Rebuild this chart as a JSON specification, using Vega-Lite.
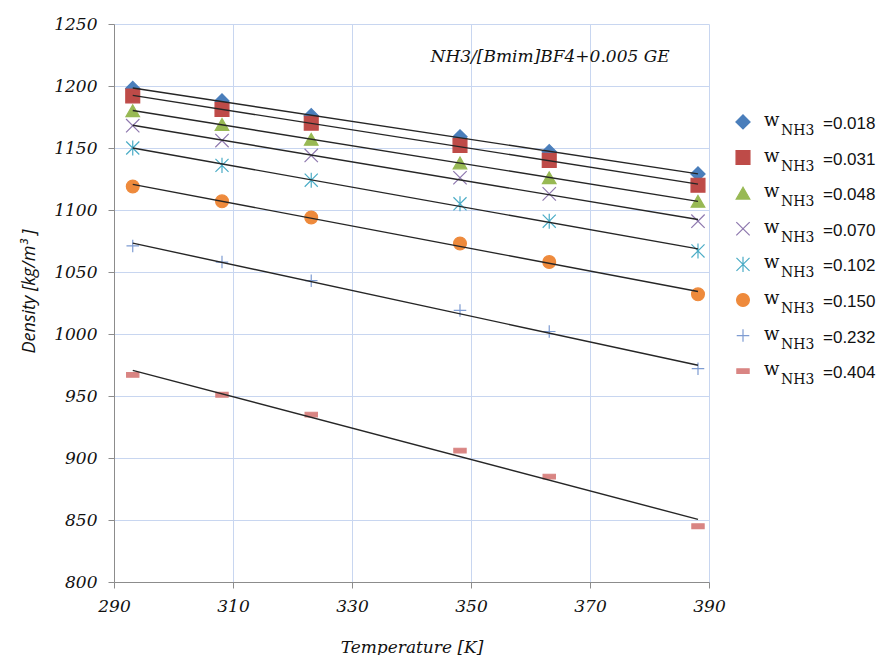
{
  "$schema": "https://vega.github.io/schema/vega-lite/v6.json",
  "background": "white",
  "padding": {"left": 20, "top": 15, "right": 0, "bottom": 0},
  "spacing": 20,
  "bounds": "flush",
  "datasets": {
    "density": [
      {"w": 0.018, "T": 293.15, "rho": 1198}, {"w": 0.018, "T": 308.15, "rho": 1188}, {"w": 0.018, "T": 323.15, "rho": 1176},
      {"w": 0.018, "T": 348.15, "rho": 1159}, {"w": 0.018, "T": 363.15, "rho": 1147}, {"w": 0.018, "T": 388.15, "rho": 1129},
      {"w": 0.031, "T": 293.15, "rho": 1192}, {"w": 0.031, "T": 308.15, "rho": 1181}, {"w": 0.031, "T": 323.15, "rho": 1170},
      {"w": 0.031, "T": 348.15, "rho": 1152}, {"w": 0.031, "T": 363.15, "rho": 1140}, {"w": 0.031, "T": 388.15, "rho": 1120},
      {"w": 0.048, "T": 293.15, "rho": 1180}, {"w": 0.048, "T": 308.15, "rho": 1169}, {"w": 0.048, "T": 323.15, "rho": 1157},
      {"w": 0.048, "T": 348.15, "rho": 1138}, {"w": 0.048, "T": 363.15, "rho": 1126}, {"w": 0.048, "T": 388.15, "rho": 1107},
      {"w": 0.070, "T": 293.15, "rho": 1168}, {"w": 0.070, "T": 308.15, "rho": 1156}, {"w": 0.070, "T": 323.15, "rho": 1144},
      {"w": 0.070, "T": 348.15, "rho": 1126}, {"w": 0.070, "T": 363.15, "rho": 1113}, {"w": 0.070, "T": 388.15, "rho": 1091},
      {"w": 0.102, "T": 293.15, "rho": 1150}, {"w": 0.102, "T": 308.15, "rho": 1136}, {"w": 0.102, "T": 323.15, "rho": 1124},
      {"w": 0.102, "T": 348.15, "rho": 1105}, {"w": 0.102, "T": 363.15, "rho": 1091}, {"w": 0.102, "T": 388.15, "rho": 1067},
      {"w": 0.150, "T": 293.15, "rho": 1119}, {"w": 0.150, "T": 308.15, "rho": 1107}, {"w": 0.150, "T": 323.15, "rho": 1094},
      {"w": 0.150, "T": 348.15, "rho": 1073}, {"w": 0.150, "T": 363.15, "rho": 1058}, {"w": 0.150, "T": 388.15, "rho": 1032},
      {"w": 0.232, "T": 293.15, "rho": 1071}, {"w": 0.232, "T": 308.15, "rho": 1058}, {"w": 0.232, "T": 323.15, "rho": 1043},
      {"w": 0.232, "T": 348.15, "rho": 1019}, {"w": 0.232, "T": 363.15, "rho": 1002}, {"w": 0.232, "T": 388.15, "rho": 972},
      {"w": 0.404, "T": 293.15, "rho": 967}, {"w": 0.404, "T": 308.15, "rho": 951}, {"w": 0.404, "T": 323.15, "rho": 935},
      {"w": 0.404, "T": 348.15, "rho": 906}, {"w": 0.404, "T": 363.15, "rho": 885}, {"w": 0.404, "T": 388.15, "rho": 845}
    ]
  },
  "config": {
    "view": {"stroke": null},
    "axis": {
      "gridColor": "#C8D6F0",
      "gridWidth": 1,
      "domainColor": "#8C8C8C",
      "tickColor": "#8C8C8C",
      "tickSize": 6,
      "labelFlush": false,
      "labelFont": "DejaVu Serif",
      "labelFontStyle": "italic",
      "labelFontSize": 17,
      "labelColor": "#111111",
      "titleColor": "#111111",
      "titleFontWeight": "normal"
    }
  },
  "hconcat": [
    {
      "width": 595,
      "height": 558,
      "layer": [
        {
          "data": {"name": "density"},
          "mark": {"type": "point", "filled": true, "opacity": 1, "strokeWidth": 1.2},
          "encoding": {
            "x": {
              "field": "T", "type": "quantitative",
              "scale": {"domain": [290, 390], "nice": false, "zero": false},
              "axis": {
                "values": [290, 310, 330, 350, 370, 390],
                "format": "d",
                "title": "Temperature [K]",
                "titleFont": "DejaVu Serif", "titleFontStyle": "italic", "titleFontSize": 17,
                "labelPadding": 10, "titlePadding": 25
              }
            },
            "y": {
              "field": "rho", "type": "quantitative",
              "scale": {"domain": [800, 1250], "nice": false, "zero": false},
              "axis": {
                "values": [800, 850, 900, 950, 1000, 1050, 1100, 1150, 1200, 1250],
                "format": "d",
                "title": "Density [kg/m³ ]",
                "titleFont": "Open Sans", "titleFontStyle": "italic", "titleFontSize": 18,
                "titleX": -76, "titleY": 267, "titleAngle": -90, "titleAlign": "center", "titleBaseline": "bottom",
                "labelPadding": 11, "titlePadding": 12
              }
            },
            "shape": {
              "field": "w", "type": "nominal", "legend": null,
              "scale": {
                "domain": [0.018, 0.031, 0.048, 0.070, 0.102, 0.150, 0.232, 0.404],
                "range": ["diamond", "square", "triangle-up", "M-1,-1L1,1M1,-1L-1,1", "M-1,-1L1,1M1,-1L-1,1M0,-1.15L0,1.15", "circle", "M-1,0L1,0M0,-1L0,1", "M-1,-0.38L1,-0.38L1,0.38L-1,0.38Z"]
              }
            },
            "fill": {
              "field": "w", "type": "nominal", "legend": null,
              "scale": {
                "domain": [0.018, 0.031, 0.048, 0.070, 0.102, 0.150, 0.232, 0.404],
                "range": ["#4A7EBB", "#BE4B48", "#98B954", "#8E78AE", "#4BACC6", "#EE8A3C", "#7E9CD2", "#D98583"]
              }
            },
            "stroke": {
              "field": "w", "type": "nominal", "legend": null,
              "scale": {
                "domain": [0.018, 0.031, 0.048, 0.070, 0.102, 0.150, 0.232, 0.404],
                "range": ["#4A7EBB", "#BE4B48", "#98B954", "#8E78AE", "#4BACC6", "#EE8A3C", "#7E9CD2", "#D98583"]
              }
            },
            "size": {
              "field": "w", "type": "nominal", "legend": null,
              "scale": {
                "domain": [0.018, 0.031, 0.048, 0.070, 0.102, 0.150, 0.232, 0.404],
                "range": [200, 150, 200, 150, 170, 250, 180, 60]
              }
            }
          }
        },
        {
          "data": {"name": "density"},
          "transform": [
            {"regression": "rho", "on": "T", "groupby": ["w"], "extent": [293.15, 388.15]}
          ],
          "mark": {"type": "line", "color": "#262626", "strokeWidth": 1.4},
          "encoding": {
            "x": {"field": "T", "type": "quantitative"},
            "y": {"field": "rho", "type": "quantitative"},
            "detail": {"field": "w", "type": "nominal"}
          }
        },
        {
          "data": {"values": [{"note": "NH3/[Bmim]BF4+0.005 GE"}]},
          "mark": {
            "type": "text",
            "font": "DejaVu Serif", "fontStyle": "italic", "fontSize": 17,
            "color": "#111111", "align": "center", "baseline": "middle"
          },
          "encoding": {
            "x": {"datum": 363.3, "type": "quantitative"},
            "y": {"datum": 1223.5, "type": "quantitative"},
            "text": {"field": "note", "type": "nominal"}
          }
        }
      ]
    },
    {
      "width": 156,
      "height": 558,
      "data": {"name": "density"},
      "transform": [
        {"aggregate": [{"op": "count", "as": "n"}], "groupby": ["w"]},
        {"window": [{"op": "row_number", "as": "row"}], "sort": [{"field": "w", "order": "ascending"}]},
        {"calculate": "'=' + format(datum.w, '.3f')", "as": "label"}
      ],
      "encoding": {
        "y": {
          "field": "row", "type": "quantitative",
          "scale": {"domain": [-1.75, 13.92], "reverse": true, "nice": false, "zero": false},
          "axis": null
        }
      },
      "layer": [
        {
          "mark": {"type": "point", "filled": true, "opacity": 1, "strokeWidth": 1.2},
          "encoding": {
            "x": {"datum": 14, "type": "quantitative", "scale": {"domain": [0, 156], "nice": false, "zero": false}, "axis": null},
            "shape": {"field": "w", "type": "nominal", "legend": null},
            "fill": {"field": "w", "type": "nominal", "legend": null},
            "stroke": {"field": "w", "type": "nominal", "legend": null},
            "size": {"field": "w", "type": "nominal", "legend": null}
          }
        },
        {
          "mark": {"type": "text", "text": "w", "font": "DejaVu Serif", "fontSize": 18, "color": "#111111", "align": "left", "baseline": "alphabetic", "dy": 4},
          "encoding": {"x": {"datum": 35, "type": "quantitative"}}
        },
        {
          "mark": {"type": "text", "text": "NH3", "font": "DejaVu Serif", "fontSize": 14, "color": "#111111", "align": "left", "baseline": "alphabetic", "dy": 13},
          "encoding": {"x": {"datum": 52, "type": "quantitative"}}
        },
        {
          "mark": {"type": "text", "font": "Liberation Sans", "fontSize": 17, "color": "#111111", "align": "left", "baseline": "alphabetic", "dy": 7},
          "encoding": {
            "x": {"datum": 94, "type": "quantitative"},
            "text": {"field": "label", "type": "nominal"}
          }
        }
      ]
    }
  ]
}
